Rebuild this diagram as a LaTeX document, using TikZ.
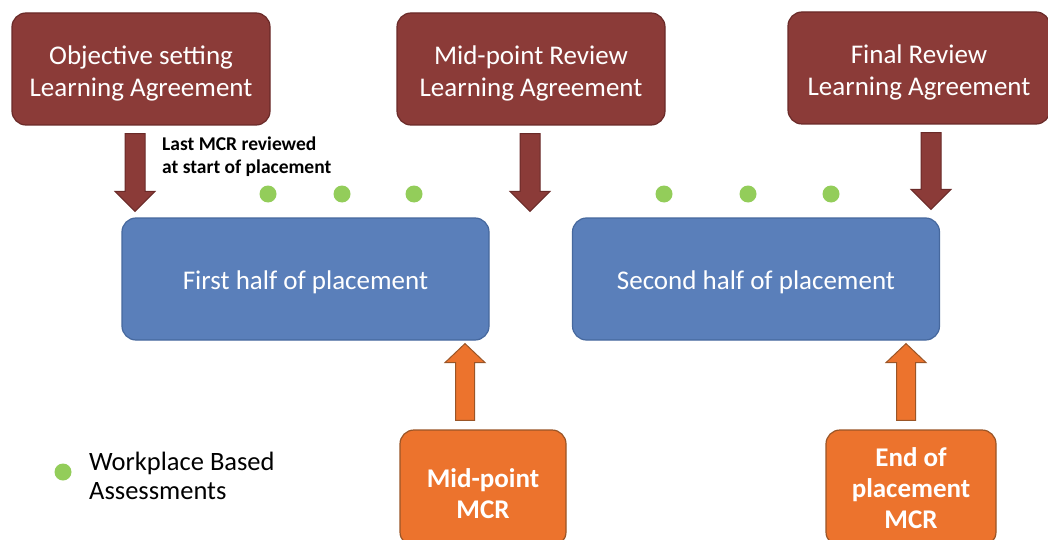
\documentclass[tikz,border=0pt]{standalone}
\usepackage{fontspec}
\setmainfont{Carlito}
\usetikzlibrary{calc}
\definecolor{agreeRed}{HTML}{8B3B38}
\definecolor{agreeEdge}{HTML}{6A2A28}
\definecolor{halfBlue}{HTML}{5A7FBA}
\definecolor{halfEdge}{HTML}{46689E}
\definecolor{mcrOrange}{HTML}{EC732D}
\definecolor{mcrEdge}{HTML}{9A5527}
\definecolor{wbaGreen}{HTML}{93CD5A}
% strut that lowers the text a little inside its box
\newcommand{\lift}[1]{\rule{0pt}{#1}}
% vertical block arrow: style, from, to, shaft half width, head half width, head length
\newcommand{\blockarrow}[6]{%
  \path[#1] let \p1=(#2), \p2=(#3), \n1={sign(\y2-\y1)} in
    (\x1-#4,\y1) -- (\x1-#4,\y2-\n1*#6) -- (\x1-#5,\y2-\n1*#6) -- (\x2,\y2)
    -- (\x1+#5,\y2-\n1*#6) -- (\x1+#4,\y2-\n1*#6) -- (\x1+#4,\y1) -- cycle;}
\begin{document}
\begin{tikzpicture}[x=1pt,y=-1pt]
    \tikzstyle{agreement} = [draw=agreeEdge, line width=1.2pt, fill=agreeRed, text=white,
        rounded corners=14pt, align=center, minimum height=112pt,
        font=\fontsize{27}{32}\selectfont]
    \tikzstyle{half} = [draw=halfEdge, line width=1.2pt, fill=halfBlue, text=white,
        rounded corners=14pt, minimum width=367pt, minimum height=122pt,
        font=\fontsize{27}{32}\selectfont]
    \tikzstyle{mcr} = [draw=mcrEdge, line width=1.2pt, fill=mcrOrange, text=white,
        rounded corners=14pt, align=center, minimum height=116pt,
        font=\bfseries\fontsize{27}{31}\selectfont]
    \tikzstyle{downarrow} = [draw=agreeEdge, line width=1pt, fill=agreeRed]
    \tikzstyle{uparrow} = [draw=mcrEdge, line width=1pt, fill=mcrOrange]
    \tikzstyle{wba} = [circle, fill=wbaGreen, inner sep=0pt, minimum size=17pt]
    \useasboundingbox[fill=white] (0,0) rectangle (1048,540);

    \node[agreement, minimum width=258pt] (objective) at (141,69)
        {\lift{27pt}Objective setting\\Learning Agreement};
    \node[agreement, minimum width=268pt] (midreview) at (531,69)
        {\lift{27pt}Mid-point Review\\Learning Agreement};
    \node[agreement, minimum width=262pt] (finalreview) at (919,68)
        {\lift{27pt}Final Review\\Learning Agreement};

    \node[half] (firsthalf) at (305.5,279) {\lift{25pt}First half of placement};
    \node[half] (secondhalf) at (756,279) {\lift{25pt}Second half of placement};

    \node[mcr, minimum width=166pt] (midmcr) at (483,488) {\lift{31pt}Mid-point\\MCR};
    \node[mcr, minimum width=170pt] (endmcr) at (911,488) {End of\\placement\\MCR};

    \node[anchor=west, align=left, inner sep=0pt,
        font=\bfseries\fontsize{19.5}{23}\selectfont] (lastmcr) at (162,157)
        {Last MCR reviewed\\at start of placement};

    % arrows between the boxes
    \coordinate (d1s) at ($(objective.south)+(-6,8)$);
    \coordinate (d1e) at (d1s |- {$(firsthalf.north)+(0,-6)$});
    \coordinate (d2s) at ($(midreview.south)+(-1,8)$);
    \coordinate (d2e) at (d2s |- {$(firsthalf.north)+(0,-6)$});
    \coordinate (d3s) at ($(finalreview.south)+(12,8)$);
    \coordinate (d3e) at (d3s |- {$(secondhalf.north)+(0,-8)$});
    \blockarrow{downarrow}{d1s}{d1e}{10pt}{20pt}{20pt}
    \blockarrow{downarrow}{d2s}{d2e}{10pt}{20pt}{20pt}
    \blockarrow{downarrow}{d3s}{d3e}{10pt}{20pt}{20pt}

    \coordinate (u1s) at ($(midmcr.north)+(-18,-9)$);
    \coordinate (u1e) at (u1s |- {$(firsthalf.south)+(0,3)$});
    \coordinate (u2s) at ($(endmcr.north)+(-5,-9)$);
    \coordinate (u2e) at (u2s |- {$(secondhalf.south)+(0,3)$});
    \blockarrow{uparrow}{u1s}{u1e}{9.5pt}{20pt}{19pt}
    \blockarrow{uparrow}{u2s}{u2e}{9.5pt}{20pt}{19pt}

    % workplace based assessments
    \foreach \x [count=\i] in {268, 342, 414, 664, 748, 831} {
        \node[wba] (wba\i) at (\x,194) {};
    }
    \node[wba] (wbakey) at (63,472) {};
    \node[anchor=west, align=left, inner sep=0pt, font=\fontsize{26.5}{29}\selectfont]
        (wbatext) at (89,476) {Workplace Based\\Assessments};
\end{tikzpicture}
\end{document}
